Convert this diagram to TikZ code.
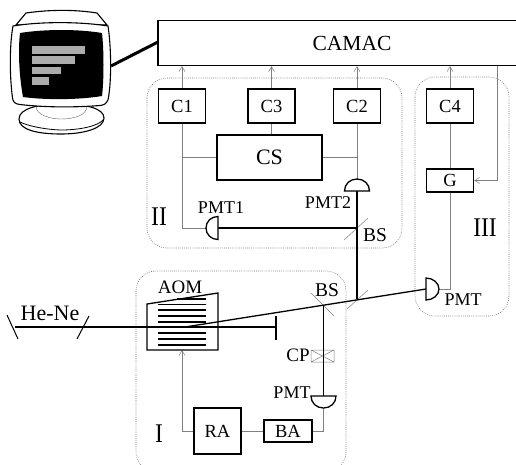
\documentclass[tikz,border=0pt]{standalone}
\usepackage{fontspec}
\setmainfont{Liberation Serif}
\usetikzlibrary{arrows.meta}
\definecolor{wire}{gray}{0.5}
\definecolor{dots}{gray}{0.45}
\tikzset{
  bx/.style={draw=black,line width=1.3pt,inner sep=0pt,font=\fontsize{18.5}{18.5}\selectfont},
  lbl/.style={inner sep=0pt,font=\fontsize{18}{18}\selectfont},
  big/.style={inner sep=0pt,xscale=0.87,transform shape,font=\fontsize{27}{27}\selectfont},
  wirel/.style={draw=wire,line width=0.7pt},
  sig/.style={wirel,-{Straight Barb[length=5pt,width=6pt,line width=0.5pt]}},
  beam/.style={draw=black,line width=1.3pt},
  det/.style={draw=black,line width=1.3pt,fill=white},
  grp/.style={draw=dots,line width=0.6pt,dash pattern=on 0.8pt off 1.3pt,rounded corners=20pt},
  thinmir/.style={draw=wire,line width=0.5pt},
  mir/.style={draw=black,line width=1pt},
}
\begin{document}
\begin{tikzpicture}[x=1pt,y=-1pt]
\useasboundingbox (0,0) rectangle (516,464);
\clip (0,0) rectangle (516,464);
\fill[white] (0,0) rectangle (516,464);
% groups
\draw[grp] (147,78) rectangle (402,248);
\draw[grp] (415,77) rectangle (509,316);
\draw[grp] (136,271) rectangle (346,472);
% boxes
\node[bx,minimum width=372pt,minimum height=45pt,font=\fontsize{21.5}{21.5}\selectfont] (camac) at (344,43) {\hspace{16pt}CAMAC};
\node[bx,minimum width=47pt,minimum height=34pt] (c1) at (182,106) {C1};
\node[bx,minimum width=47pt,minimum height=34pt] (c3) at (271.5,106) {C3};
\node[bx,minimum width=47pt,minimum height=34pt] (c2) at (357,106) {C2};
\node[bx,minimum width=105pt,minimum height=45pt,font=\fontsize{22}{22}\selectfont] (cs) at (269.5,157.5) {CS};
\node[bx,minimum width=47pt,minimum height=34pt] (c4) at (450,106) {C4};
\node[bx,minimum width=47pt,minimum height=23pt] (g) at (450,180.5) {G};
\node[bx,minimum width=47pt,minimum height=46pt] (ra) at (217.5,431) {RA};
\node[bx,minimum width=48pt,minimum height=22pt] (ba) at (288,431) {BA};
% reference points
\coordinate (pmtOneTip) at (206,228);
\coordinate (pmtOneFlat) at (218,228);
\coordinate (pmtTwoTip) at (357,179);
\coordinate (pmtTwoFlat) at (357,191);
\coordinate (pmtThreeTip) at (439,289);
\coordinate (pmtThreeFlat) at (426,289);
\coordinate (pmtTip) at (323.5,408);
\coordinate (pmtFlat) at (323.5,396);
\coordinate (bsTop) at (357,228);
\coordinate (bsA) at (323.5,305);
\coordinate (bsB) at (357,299);
\coordinate (aomOut) at (185,327);
\coordinate (laserL) at (15,327);
\coordinate (stop) at (276,327);
\coordinate (camacDisp) at (158,42);
\coordinate (dispOut) at (111,66);
\coordinate (aomBottom) at (182,350);
% signal wires
\draw[sig] (c1.north) -- (c1.north |- camac.south);
\draw[sig] (c3.north) -- (c3.north |- camac.south);
\draw[sig] (c2.north) -- (c2.north |- camac.south);
\draw[sig] (c4.north) -- (c4.north |- camac.south);
\draw[wirel] (c3.south) -- (c3.south |- cs.north);
\draw[wirel] (c1.south) -- (pmtOneTip -| c1.south) -- (pmtOneTip);
\draw[wirel] (cs.west) -- (cs.west -| c1.south);
\draw[wirel] (cs.east) -- (cs.east -| c2.south);
\draw[wirel] (c2.south) -- (pmtTwoTip);
\draw[wirel] (c4.south) -- (g.north);
\draw[wirel] (g.south) -- (pmtThreeTip -| g.south) -- (pmtThreeTip);
\draw[sig] (camac.south -| 497,0) -- (497,180.5) -- (g.east);
\draw[sig] (ra.west) -- (ra.west -| aomBottom) -- (aomBottom);
\draw[wirel] (ra.east) -- (ba.west);
\draw[wirel] (ba.east) -- (ba.east -| pmtTip) -- (pmtTip);
% AOM
\draw[det] (147,304) -- (218,293) -- (218,350) -- (147,350) -- cycle;
\foreach \yy/\xa in {299/177,304.5/158,310/158,316/158,322/158,333/158,339/158,345/158}
  \draw[line width=1.2pt] (\xa,\yy) -- (206,\yy);
% beam splitters and mirrors
\draw[thinmir] (344,240) -- (368,218);
\draw[thinmir] (311,293) -- (334,316);
\draw[thinmir] (347,309) -- (368,290);
\draw[mir] (7,315) -- (18,339);
\draw[mir] (89,316) -- (77,339);
\draw[line width=1.3pt] (276,316) -- (276,340);
% CP
\draw[thinmir] (311,350) rectangle (334,362) (311,350) -- (334,362) (311,362) -- (334,350);
% beams
\draw[beam] (laserL) -- (stop);
\draw[beam] (aomOut) -- (pmtThreeFlat);
\draw[beam] (pmtTwoFlat) -- (bsB);
\draw[beam] (pmtOneFlat) -- (bsTop);
\draw[beam] (bsA) -- (pmtFlat);
% detectors
\draw[det] (218,216.5) .. controls (211,216.5) and (206,221.5) .. (pmtOneTip) .. controls (206,234.5) and (211,239.5) .. (218,239.5) -- cycle;
\draw[det] (344.5,191) .. controls (344.5,184) and (350,179) .. (pmtTwoTip) .. controls (364,179) and (369.5,184) .. (369.5,191) -- cycle;
\draw[det] (426,278) .. controls (433,278) and (439,283) .. (pmtThreeTip) .. controls (439,295) and (433,300) .. (426,300) -- cycle;
\draw[det] (311,396) .. controls (311,403) and (316.5,408) .. (pmtTip) .. controls (330.5,408) and (336,403) .. (336,396) -- cycle;
% monitor link
\draw[line width=3pt] (dispOut) -- (camacDisp);
% monitor
\draw[line width=1.1pt,fill=white] (19,119) .. controls (19,108) and (40,104) .. (61,104) .. controls (85,104) and (104,108) .. (104,118) .. controls (104,128) and (85,134) .. (61,134) .. controls (38,134) and (19,130) .. (19,119) -- cycle;
\draw[line width=0.8pt] (20,122) .. controls (28,126) and (45,129.5) .. (61,130) .. controls (80,130) and (98,126) .. (103,120);
\draw[draw=black!60,line width=0.4pt] (36,106) .. controls (36,115) and (50,119) .. (61,119) .. controls (75,119) and (87,115) .. (87,106);
\draw[line width=1.1pt,fill=white] (16,25) -- (26,13) .. controls (50,9.5) and (75,9.5) .. (97,13) -- (107,25) -- cycle;
\draw[line width=1.1pt,fill=white] (13,26) .. controls (40,21.5) and (80,21.5) .. (108,26) .. controls (111,45) and (112,80) .. (108,100) .. controls (106,104) and (104,105) .. (100,105.5) .. controls (75,107.5) and (45,107.5) .. (20,104.5) .. controls (15,104) and (13,102) .. (12.5,98) .. controls (9.5,75) and (9.5,45) .. (13,26) -- cycle;
\fill[black] (20,33) .. controls (45,29) and (78,29) .. (102,33) .. controls (104,50) and (104,80) .. (102,96) .. controls (78,100) and (45,100) .. (23,97) .. controls (19,75) and (18,50) .. (20,33) -- cycle;
\fill[gray!65] (31.5,46) rectangle (84.5,53.5);
\fill[gray!65] (31.5,56) rectangle (75,64);
\fill[gray!65] (31.5,66.5) rectangle (61,74);
\fill[gray!65] (31.5,77) rectangle (49,85);
% labels
\node[lbl,font=\fontsize{22}{22}\selectfont] (lHeNe) at (50,313) {He-Ne};
\node[lbl,font=\fontsize{19}{19}\selectfont] (lAOM) at (180,287) {AOM};
\node[lbl,font=\fontsize{19.5}{19.5}\selectfont] (lBSa) at (327,290) {BS};
\node[lbl,font=\fontsize{19.5}{19.5}\selectfont] (lBSb) at (375,235) {BS};
\node[lbl,font=\fontsize{19}{19}\selectfont] (lCP) at (298,355) {CP};
\node[lbl] (lPMTa) at (292,393) {PMT};
\node[lbl] (lPMTb) at (463,300) {PMT};
\node[lbl] (lPMTone) at (221,208) {PMT1};
\node[lbl] (lPMTtwo) at (328,203) {PMT2};
\node[big] (lII) at (159,217) {II};
\node[big] (lIII) at (485,228) {III};
\node[big] (lI) at (159,434) {I};
\end{tikzpicture}
\end{document}
